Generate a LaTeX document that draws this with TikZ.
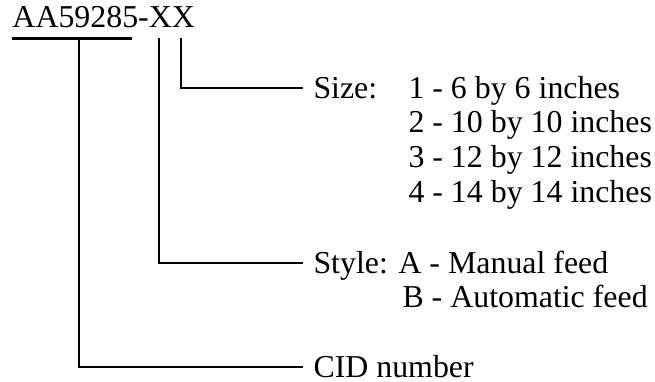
\documentclass[tikz,border=0pt]{standalone}
\usepackage{fontspec}
\setmainfont{Liberation Serif}
\begin{document}
\begin{tikzpicture}[x=0.4pt,y=-0.4pt,
  lbl/.style={anchor=base west,inner xsep=4.4pt,inner ysep=0pt,
    font=\fontsize{12.75pt}{14pt}\selectfont},
  wire/.style={line width=0.8pt,line cap=rect},
  uline/.style={line width=1.2pt}]
\useasboundingbox (0,0) rectangle (655,381);

% part number and its underline
\node[lbl,inner xsep=0pt] (code) at (12,27) {AA59285-XX};
\draw[uline] (12,38) -- (132,38);

% start points of the leader lines below the code
\coordinate (cidtop)   at (79,39);
\coordinate (styletop) at (159,39);
\coordinate (sizetop)  at (181,39);

% field descriptions
\node[lbl] (size) at (302,98) {Size:};
\node[lbl,inner xsep=0pt] (s1) at (408,98)  {1 - 6 by 6 inches};
\node[lbl,inner xsep=0pt] (s2) at (408,132) {2 - 10 by 10 inches};
\node[lbl,inner xsep=0pt] (s3) at (408,167) {3 - 12 by 12 inches};
\node[lbl,inner xsep=0pt] (s4) at (408,202) {4 - 14 by 14 inches};

\node[lbl] (style) at (302,273) {Style: A - Manual feed};
\node[lbl,inner xsep=0pt] (st2) at (402,307) {B - Automatic feed};

\node[lbl] (cid) at (302,377) {CID number};

% leader lines
\draw[wire] (sizetop)  |- ([yshift=4pt]size.base west);
\draw[wire] (styletop) |- ([yshift=4pt]style.base west);
\draw[wire] (cidtop)   |- ([yshift=4pt]cid.base west);
\end{tikzpicture}
\end{document}
